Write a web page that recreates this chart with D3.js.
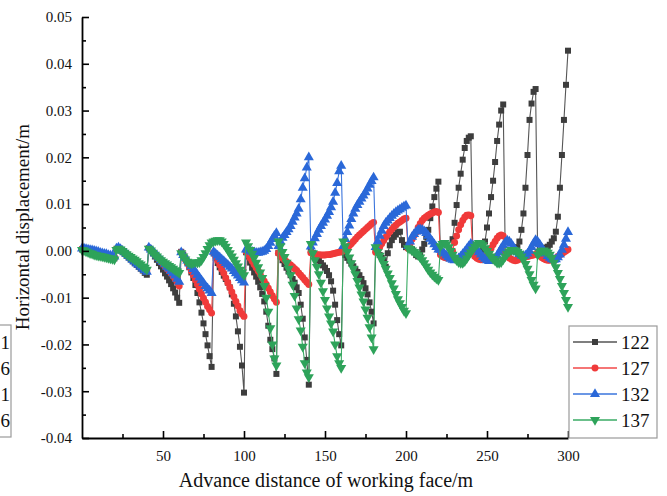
<!DOCTYPE html>
<html>
<head>
<meta charset="utf-8">
<script src="https://cdn.jsdelivr.net/npm/d3@7"></script>
<style>
  body { margin: 0; background: #fff; }
  svg { display: block; }
  svg text { font-family: "Liberation Serif", "DejaVu Serif", serif; }
</style>
</head>
<body>
<div id="vis"></div>
<script>
// horizontal displacement in mm, one reading every 1.25 m of face advance (0 .. 300 m)
// each row = one 20 m advance step
const step = 1.25;

const line122 = [0.3,
  0.3, 0.2, 0.1, 0, -0.2, -0.3, -0.4, -0.5, -0.7, -0.8, -0.9, -1.1, -1.2, -1.3, -1.5, -1.6,
  0.3, 0.5, 0.2, -0.2, -0.6, -1.0, -1.4, -1.8, -2.2, -2.6, -3.0, -3.4, -3.8, -4.2, -4.7, -5.1,
  0.6, 0.2, -0.5, -1.2, -1.9, -2.6, -3.3, -4.0, -4.8, -5.5, -6.3, -7.1, -8.0, -8.9, -10.0, -11.1,
  -0.2, -0.8, -1.6, -2.5, -3.5, -4.6, -5.8, -7.3, -9.0, -11.0, -13.2, -15.5, -17.8, -20.2, -22.5, -24.8,
  -0.5, -1.5, -2.6, -3.5, -4.5, -5.3, -6.0, -6.8, -7.8, -9.3, -11.3, -14.0, -17.2, -20.5, -24.5, -30.3,
  -0.3, -1.2, -2.5, -3.6, -4.6, -5.5, -6.6, -7.8, -9.2, -10.8, -13.0, -16.0, -19.0, -21.0, -23.0, -26.3,
  -0.4, -1.2, -2.0, -2.8, -3.6, -4.4, -5.2, -6.0, -6.8, -7.8, -9.0, -11.5, -14.5, -18.5, -23.3, -28.6,
  0.2, -0.5, -1.1, -1.6, -2.1, -2.6, -3.1, -3.6, -4.3, -5.2, -6.5, -8.5, -11.5, -14.8, -17.8, -20.2,
  -0.3, -0.9, -1.5, -2.1, -2.7, -3.3, -3.9, -4.5, -5.2, -6.0, -6.9, -8.0, -9.3, -11.0, -13.0, -15.5,
  0.3, -0.3, -0.9, -1.5, -2.0, -3.4, -0.5, 1.2, 2.3, 3.0, 3.5, 4.0, 4.1, 2.3, 1.3, 0.8,
  1.0, 0.8, 0.3, -0.3, -0.9, -1.2, -0.8, 0.3, 1.5, 3.0, 4.5, 7.0, 9.5, 11.5, 13.3, 14.8,
  0.0, -0.5, -1.0, -1.3, -1.5, -1.0, 2.5, 6.0, 9.8, 13.5, 16.5, 19.5, 22.0, 23.5, 24.2, 24.5,
  -0.5, -1.0, -1.2, -1.0, -0.5, 0.3, 2.0, 5.0, 8.0, 11.5, 15.0, 19.0, 23.5, 27.0, 30.0, 31.3,
  -0.3, -0.5, -0.3, 0.0, 0.3, 0.5, 0.8, 2.0, 4.5, 8.0, 13.5, 20.5, 28.0, 31.5, 34.0, 34.6,
  -0.3, 0.0, 0.3, 0.5, 0.7, 0.9, 1.3, 2.0, 2.7, 4.1, 7.3, 13.5, 20.5, 28.0, 35.5, 42.8
];

const line127 = [0.4,
  0.4, 0.3, 0.2, 0.1, 0, -0.1, -0.2, -0.4, -0.5, -0.6, -0.7, -0.8, -1.0, -1.1, -1.2, -1.3,
  0.4, 0.6, 0.3, 0, -0.4, -0.7, -1.1, -1.4, -1.8, -2.1, -2.5, -2.8, -3.2, -3.5, -3.9, -4.3,
  0.6, 0.2, -0.3, -0.8, -1.3, -1.8, -2.3, -2.8, -3.3, -3.8, -4.3, -4.8, -5.4, -6.0, -6.7, -7.5,
  -0.3, -1.0, -1.8, -2.6, -3.4, -4.3, -5.2, -6.2, -7.2, -8.2, -9.2, -10.1, -11.0, -11.9, -12.6, -13.3,
  -0.4, -1.2, -2.1, -3.0, -3.9, -4.8, -5.8, -6.8, -7.8, -8.8, -9.8, -10.8, -11.8, -12.8, -13.5, -14.0,
  -0.2, -0.8, -1.5, -2.2, -2.9, -3.6, -4.3, -5.0, -5.8, -6.5, -7.2, -8.0, -8.8, -9.6, -10.3, -11.0,
  -0.5, -1.0, -1.5, -1.9, -2.3, -2.7, -3.0, -3.4, -3.8, -4.2, -4.7, -5.2, -5.7, -6.2, -6.7, -7.2,
  -0.4, -0.6, -0.7, -0.8, -0.8, -0.9, -0.9, -0.9, -0.8, -0.8, -0.7, -0.6, -0.5, -0.4, -0.3, -0.2,
  0.0, 0.3, 0.7, 1.1, 1.5, 2.0, 2.5, 3.0, 3.4, 3.8, 4.2, 4.6, 5.0, 5.4, 5.8, 6.1,
  -0.3, 0.2, 0.8, 1.5, 2.2, 2.9, 3.5, 4.1, 4.6, 5.1, 5.5, 5.9, 6.2, 6.5, 6.8, 7.0,
  0.5, 1.5, 2.5, 3.3, 4.0, 5.0, 5.8, 6.5, 7.0, 7.3, 7.6, 7.9, 8.1, 8.3, 8.4, 8.2,
  -0.8, -1.2, -1.4, -1.5, -1.4, -1.0, 0.0, 1.8, 3.2, 4.5, 5.6, 6.5, 7.2, 7.6, 7.7, 7.5,
  -0.5, -1.2, -1.6, -1.8, -1.9, -1.8, -1.5, -1.0, -0.3, 0.5, 1.3, 2.0, 2.7, 3.2, 3.4, 3.2,
  -0.5, -1.0, -1.5, -1.8, -2.0, -2.1, -2.0, -1.8, -1.6, -1.4, -1.3, -1.2, -1.1, -1.0, -0.9, -0.8,
  -0.5, -1.0, -1.4, -1.7, -1.9, -2.0, -2.0, -1.9, -1.7, -1.5, -1.2, -0.9, -0.6, -0.3, 0.0, 0.3
];

const line132 = [0.5,
  0.5, 0.4, 0.3, 0.2, 0.1, 0, -0.1, -0.2, -0.4, -0.5, -0.6, -0.7, -0.9, -1.0, -1.1, -1.2,
  0.5, 0.7, 0.4, 0, -0.3, -0.7, -1.1, -1.5, -1.9, -2.3, -2.7, -3.0, -3.4, -3.8, -4.1, -4.5,
  0.7, 0.3, -0.1, -0.6, -1.0, -1.5, -2.0, -2.4, -2.9, -3.4, -3.8, -4.3, -4.8, -5.3, -6.0, -6.6,
  -0.3, -0.9, -1.5, -2.1, -2.7, -3.3, -3.9, -4.5, -5.1, -5.7, -6.3, -6.9, -7.5, -8.0, -8.5, -9.0,
  -0.2, -0.6, -1.0, -1.4, -1.8, -2.2, -2.6, -3.0, -3.4, -3.8, -4.3, -4.8, -5.3, -5.8, -6.3, -6.8,
  0.3, 0.2, 0.0, -0.2, -0.3, -0.4, -0.4, -0.3, -0.2, 0.0, 0.4, 1.0, 1.7, 2.5, 3.2, 3.8,
  1.0, 2.0, 2.8, 3.4, 4.0, 4.6, 5.3, 6.2, 7.1, 8.0, 9.0, 11.0, 13.5, 15.5, 17.8, 20.0,
  0.9, 1.8, 2.7, 3.6, 4.5, 5.3, 6.0, 6.7, 7.5, 8.3, 9.3, 10.5, 12.4, 14.5, 17.0, 18.2,
  1.0, 2.5, 4.0, 5.4, 6.8, 8.0, 9.0, 9.8, 10.5, 11.2, 11.8, 12.5, 13.3, 14.1, 14.9, 15.7,
  0.8, 2.0, 3.2, 4.3, 5.3, 6.0, 6.5, 7.0, 7.5, 7.9, 8.3, 8.6, 8.9, 9.2, 9.5, 9.7,
  1.0, 2.0, 3.0, 3.6, 4.1, 4.5, 4.6, 4.5, 4.2, 3.8, 3.2, 2.6, 2.0, 1.4, 0.8, 0.3,
  0.2, -0.2, -0.6, -1.0, -1.4, -1.7, -1.9, -2.0, -1.9, -1.6, -1.2, -0.7, -0.2, 0.4, 1.0, 1.5,
  1.2, 0.7, 0.2, -0.3, -0.8, -1.3, -1.7, -2.0, -2.2, -2.2, -2.0, -1.6, -1.0, -0.3, 0.5, 1.2,
  1.8, 2.2, 2.0, 1.5, 0.8, 0.2, -0.3, -0.7, -1.0, -1.1, -1.0, -0.6, 0.0, 0.8, 1.6, 2.3,
  2.0, 1.4, 0.7, 0.0, -0.6, -1.1, -1.5, -1.8, -1.9, -1.8, -1.4, -0.8, 0.2, 1.3, 2.6, 4.0
];

const line137 = [0.2,
  0.1, -0.1, -0.3, -0.5, -0.6, -0.8, -0.9, -1.0, -1.1, -1.2, -1.3, -1.4, -1.5, -1.6, -1.7, -1.8,
  0.2, 0.5, 0.3, 0, -0.4, -0.7, -1.0, -1.3, -1.6, -1.9, -2.2, -2.6, -2.9, -3.3, -3.6, -4.0,
  0.5, 0.1, -0.4, -0.8, -1.2, -1.6, -2.0, -2.3, -2.6, -2.9, -3.2, -3.5, -3.8, -4.1, -4.4, -4.7,
  -0.5, -1.2, -1.8, -2.3, -2.6, -2.7, -2.6, -2.4, -2.5, -2.4, -2.0, -1.3, -0.5, 0.4, 1.2, 1.8,
  2.0, 2.2, 2.3, 2.3, 2.0, 1.5, 0.9, 0.2, -0.5, -1.2, -1.9, -2.6, -3.3, -4.0, -4.6, -5.2,
  1.8, 1.0, 0.2, -0.6, -1.5, -2.5, -3.5, -4.6, -5.8, -7.5, -10.0, -13.0, -16.5, -20.0, -23.0, -24.5,
  2.0, 1.0, -0.2, -1.3, -2.5, -3.8, -5.2, -7.2, -9.6, -12.3, -14.6, -17.0, -20.5, -24.0, -26.0, -27.0,
  1.5, -0.5, -2.0, -3.4, -5.0, -6.8, -8.6, -10.5, -12.3, -14.0, -15.5, -17.2, -20.0, -22.5, -24.0, -25.0,
  2.0, 1.0, -0.2, -1.4, -2.6, -3.8, -5.0, -6.4, -7.8, -9.3, -10.8, -12.5, -14.3, -16.3, -18.5, -21.0,
  0.8, -0.2, -1.0, -1.8, -2.8, -3.8, -4.8, -5.8, -6.9, -8.0, -9.2, -10.3, -11.2, -12.0, -12.8, -13.3,
  0.6, 0.4, 0.1, -0.2, -0.5, -0.9, -1.4, -2.0, -2.6, -3.3, -4.0, -4.6, -5.1, -5.5, -5.9, -6.2,
  1.0, 1.5, 1.7, 1.4, 0.8, 0.0, -0.8, -1.5, -2.0, -2.4, -2.6, -2.6, -2.2, -1.6, -0.9, -0.3,
  0.3, 0.9, 1.4, 1.7, 1.6, 1.2, 0.6, 0.0, -0.6, -1.2, -1.7, -2.1, -2.5, -2.6, -2.4, -1.8,
  -1.2, -0.6, -0.1, 0.2, 0.2, 0.1, -0.2, -0.6, -1.2, -1.9, -2.8, -3.8, -5.0, -6.2, -7.2, -8.0,
  -0.8, -0.3, 0.0, 0.1, -0.1, -0.4, -0.8, -1.5, -2.5, -3.5, -4.7, -6.0, -7.5, -9.0, -10.5, -12.0
];

const seriesNames = ["122", "127", "132", "137"];
const seriesValues = [line122, line127, line132, line137];

const xMajor = [50, 100, 150, 200, 250, 300];
const xMajorLabels = ["50", "100", "150", "200", "250", "300"];
const xMinor = [25, 75, 125, 175, 225, 275];
const yMajor = [-0.04, -0.03, -0.02, -0.01, 0, 0.01, 0.02, 0.03, 0.04, 0.05];
const yMajorLabels = ["-0.04", "-0.03", "-0.02", "-0.01", "0.00", "0.01", "0.02", "0.03", "0.04", "0.05"];
const yMinor = [-0.035, -0.025, -0.015, -0.005, 0.005, 0.015, 0.025, 0.035, 0.045];

// fragment of the neighbouring figure's legend cut at the left edge
const leftFragment = ["1", "6", "1", "6"];

const serif = "'Liberation Serif', 'DejaVu Serif', serif";
const colors = ["#3d3d3d", "#f03a3a", "#2a68d8", "#2ea35a"];
const lineColors = ["#555555", "#f24848", "#3a74dc", "#3aab64"];
const symbols = [
  {type: d3.symbolSquare, size: 36, rot: 0},
  {type: d3.symbolCircle, size: 38, rot: 0},
  {type: d3.symbolTriangle, size: 44, rot: 0},
  {type: d3.symbolTriangle, size: 44, rot: 180}
];

const W = 667, H = 496;
const svg = d3.select("#vis").append("svg")
  .attr("width", W)
  .attr("height", H);

const x = d3.scaleLinear().domain([0, 300]).range([82, 568]);
const y = d3.scaleLinear().domain([-0.04, 0.05]).range([438, 17]);

// series
const line = d3.line()
  .x(d => x(d.x))
  .y(d => y(d.v));

seriesValues.forEach(function (vals, s) {
  const pts = vals.map((v, i) => ({x: i * step, v: v / 1000}));
  const g = svg.append("g");
  g.append("path")
    .datum(pts)
    .attr("d", line)
    .attr("fill", "none")
    .attr("stroke", lineColors[s])
    .attr("stroke-width", 1.1);
  const sym = d3.symbol().type(symbols[s].type).size(symbols[s].size);
  g.selectAll("path.pt")
    .data(pts)
    .enter()
    .append("path")
    .attr("class", "pt")
    .attr("d", sym)
    .attr("transform", d => "translate(" + x(d.x) + "," + y(d.v) + ") rotate(" + symbols[s].rot + ")")
    .attr("fill", colors[s]);
});

// axes (ticks point inward)
svg.append("g")
  .attr("transform", "translate(0,438)")
  .call(d3.axisBottom(x).tickValues(xMajor).tickFormat((d, i) => xMajorLabels[i])
    .tickSize(-7).tickSizeOuter(0).tickPadding(12));
svg.append("g")
  .attr("transform", "translate(0,438)")
  .call(d3.axisBottom(x).tickValues(xMinor).tickFormat("").tickSize(-4).tickSizeOuter(0))
  .select(".domain").remove();

svg.append("g")
  .attr("transform", "translate(82,0)")
  .call(d3.axisLeft(y).tickValues(yMajor).tickFormat((d, i) => yMajorLabels[i])
    .tickSize(-7).tickSizeOuter(0).tickPadding(10));
svg.append("g")
  .attr("transform", "translate(82,0)")
  .call(d3.axisLeft(y).tickValues(yMinor).tickFormat("").tickSize(-4).tickSizeOuter(0))
  .select(".domain").remove();

svg.selectAll(".domain").attr("stroke", "#000").attr("stroke-width", 1.8);
svg.selectAll(".tick line").attr("stroke", "#000").attr("stroke-width", 1.6);
svg.selectAll(".tick text")
  .attr("fill", "#111")
  .attr("font-family", serif)
  .attr("font-size", 15);

// titles
svg.append("text")
  .attr("x", 326)
  .attr("y", 487)
  .attr("text-anchor", "middle")
  .attr("font-family", serif)
  .attr("font-size", 20)
  .attr("fill", "#111")
  .text("Advance distance of working face/m");

svg.append("text")
  .attr("transform", "translate(29,227) rotate(-90)")
  .attr("text-anchor", "middle")
  .attr("font-family", serif)
  .attr("font-size", 19)
  .attr("fill", "#111")
  .text("Horizontal displacement/m");

// legend
const leg = svg.append("g");
leg.append("rect")
  .attr("x", 569).attr("y", 326)
  .attr("width", 88).attr("height", 112)
  .attr("fill", "#fff")
  .attr("stroke", "#9a9a9a")
  .attr("stroke-width", 1.2);
seriesNames.forEach(function (name, s) {
  const ly = 342 + s * 26;
  leg.append("line")
    .attr("x1", 573).attr("x2", 617)
    .attr("y1", ly).attr("y2", ly)
    .attr("stroke", lineColors[s])
    .attr("stroke-width", 1.3);
  leg.append("path")
    .attr("d", d3.symbol().type(symbols[s].type).size(symbols[s].size)())
    .attr("transform", "translate(595," + ly + ") rotate(" + symbols[s].rot + ")")
    .attr("fill", colors[s]);
  leg.append("text")
    .attr("x", 621)
    .attr("y", ly)
    .attr("dy", "0.35em")
    .attr("font-family", serif)
    .attr("font-size", 19)
    .attr("fill", "#111")
    .text(name);
});

// left-edge fragment
svg.append("rect")
  .attr("x", -6).attr("y", 325)
  .attr("width", 17).attr("height", 112)
  .attr("fill", "none")
  .attr("stroke", "#9a9a9a")
  .attr("stroke-width", 1.2);
leftFragment.forEach(function (t, i) {
  svg.append("text")
    .attr("x", 10)
    .attr("y", 342 + i * 26)
    .attr("dy", "0.35em")
    .attr("text-anchor", "end")
    .attr("font-family", serif)
    .attr("font-size", 19)
    .attr("fill", "#111")
    .text(t);
});
</script>
</body>
</html>
